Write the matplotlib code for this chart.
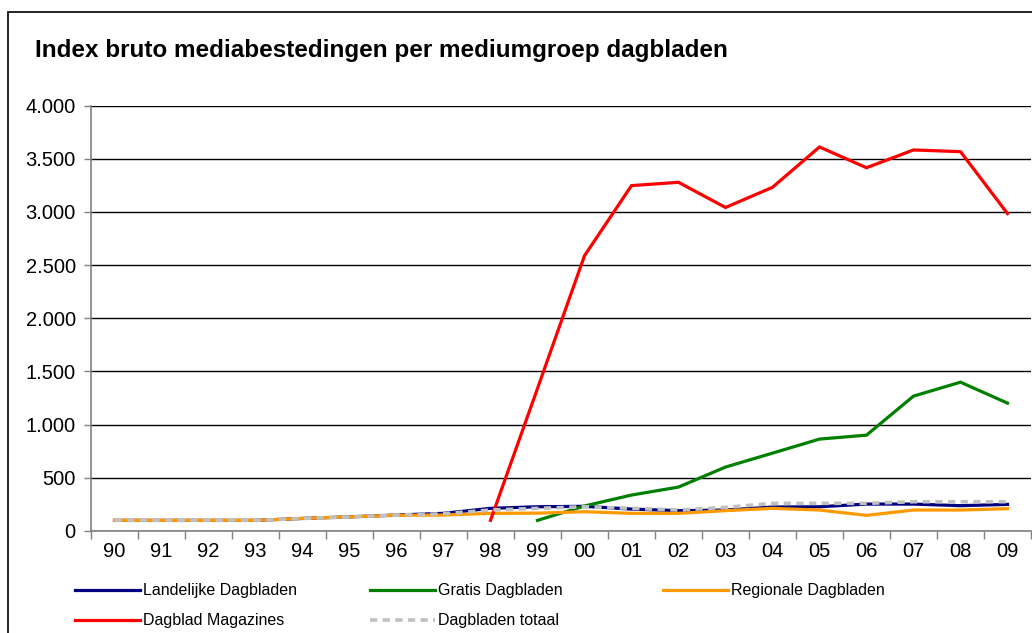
import numpy as np
import matplotlib
matplotlib.use("Agg")
import matplotlib.pyplot as plt
from matplotlib.lines import Line2D
from matplotlib.patches import Rectangle
from matplotlib.ticker import FuncFormatter, FixedLocator

plt.rcParams['font.family'] = ['Liberation Sans', 'DejaVu Sans']

years = ['90', '91', '92', '93', '94', '95', '96', '97', '98', '99',
         '00', '01', '02', '03', '04', '05', '06', '07', '08', '09']
nan = np.nan
landelijke = [100, 100, 100, 100, 118, 133, 150, 166, 213, 228,
              232, 206, 191, 197, 225, 228, 253, 253, 238, 250]
gratis = [nan, nan, nan, nan, nan, nan, nan, nan, nan, 100,
          235, 338, 413, 601, 732, 864, 901, 1268, 1399, 1202]
regionale = [100, 100, 100, 100, 118, 133, 148, 150, 166, 168,
             181, 166, 166, 191, 213, 197, 147, 197, 197, 210]
magazines = [nan, nan, nan, nan, nan, nan, nan, nan, 100, 1340,
             2588, 3247, 3278, 3041, 3231, 3610, 3415, 3582, 3566, 2984]
totaal = [100, 100, 100, 100, 118, 132, 150, 162, 197, 213,
          228, 213, 197, 222, 260, 260, 260, 275, 275, 275]

names = ['Landelijke Dagbladen', 'Gratis Dagbladen', 'Regionale Dagbladen',
         'Dagblad Magazines', 'Dagbladen totaal']
series = [landelijke, gratis, regionale, magazines, totaal]
colors = ['#000080', '#008000', '#FF9900', '#FF0000', '#C0C0C0']
styles = ['-', '-', '-', '-', (0, (2.0, 1.5))]
widths = [2.3, 2.3, 2.3, 2.3, 2.6]
title = 'Index bruto mediabestedingen per mediumgroep dagbladen'
yticks = [0, 500, 1000, 1500, 2000, 2500, 3000, 3500, 4000]

W, H = 1032, 633
fig = plt.figure(figsize=(W / 100, H / 100), dpi=100)
fig.patch.set_facecolor('white')

# outer chart frame
fig.add_artist(Rectangle((8 / W, -0.1), 1.2, (H - 12) / H + 0.1,
                         transform=fig.transFigure, fill=False,
                         edgecolor='black', lw=1.2))

ax = fig.add_axes([91 / W, (H - 531) / H, (1031 - 91) / W, (531 - 105.5) / H])
x = np.arange(len(years))
for vals, c, ls, lw in zip(series, colors, styles, widths):
    ax.plot(x, vals, color=c, lw=lw, linestyle=ls, solid_joinstyle='miter',
            dash_capstyle='butt', zorder=3)

ax.set_xlim(-0.5, len(years) - 0.5)
ax.set_ylim(0, 4000)
ax.set_yticks(yticks)
ax.yaxis.set_major_formatter(FuncFormatter(lambda v, p: f'{int(v):,}'.replace(',', '.')))
ax.grid(axis='y', color='black', lw=1.0, zorder=1)
ax.xaxis.set_major_locator(FixedLocator(np.arange(-0.5, len(years), 1.0)))
ax.xaxis.set_minor_locator(FixedLocator(x))
ax.set_xticklabels([], minor=False)
ax.set_xticklabels(years, minor=True)
ax.tick_params(axis='x', which='major', length=6, width=1, color='#808080', direction='out')
ax.tick_params(axis='x', which='minor', length=0, labelsize=14.5, pad=8)
ax.tick_params(axis='y', length=5, width=1, color='#808080', labelsize=14.5, pad=6)
for s in ['top', 'right']:
    ax.spines[s].set_visible(False)
ax.spines['left'].set_color('#808080')
ax.spines['bottom'].set_color('#808080')
ax.spines['left'].set_linewidth(1.2)
ax.spines['bottom'].set_linewidth(1.2)

fig.text(35 / W, 1 - 57 / H, title, fontsize=17.5, fontweight='bold',
         ha='left', va='baseline')

# legend drawn in two rows like the original
leg_pos = [(75, 590), (370, 590), (663, 590), (75, 620), (370, 620)]
for (px, py), name, c, ls, lw in zip(leg_pos, names, colors, styles, widths):
    fig.add_artist(Line2D([px / W, (px + 65) / W], [1 - py / H, 1 - py / H],
                          transform=fig.transFigure, color=c, lw=lw,
                          linestyle=ls, dash_capstyle='butt'))
    fig.text((px + 68) / W, 1 - py / H, name, fontsize=11.5, ha='left', va='center')

fig.savefig('out.png', dpi=100, facecolor='white')
